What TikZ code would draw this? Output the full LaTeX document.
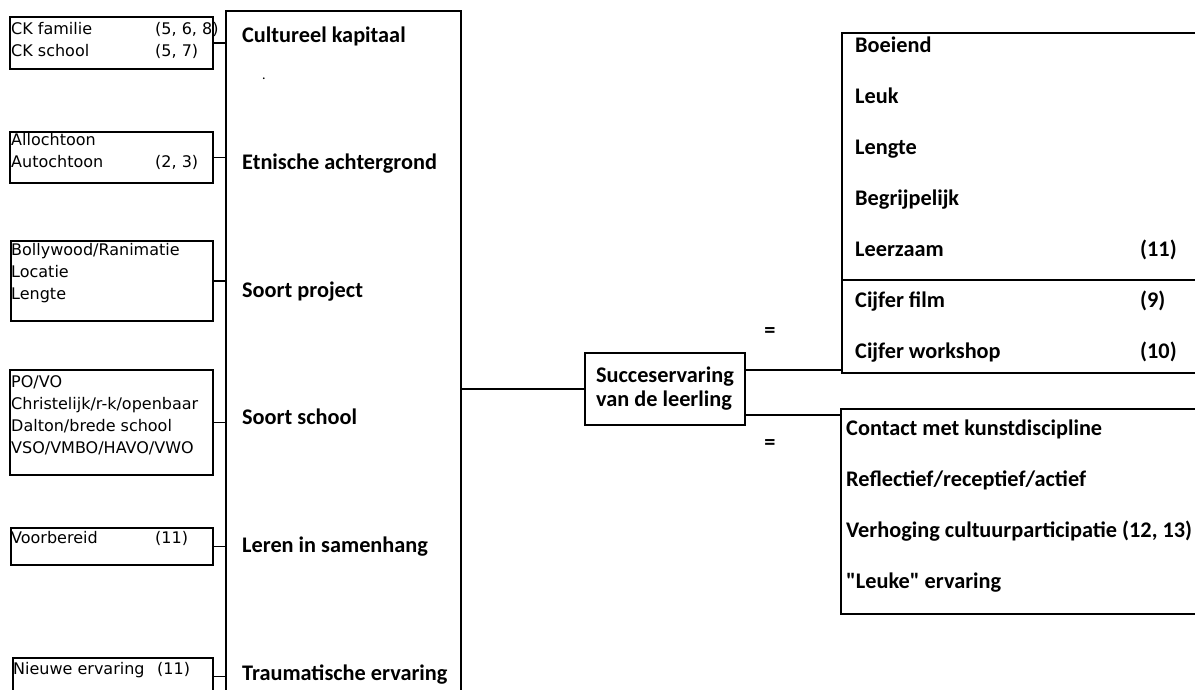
\documentclass[tikz,border=0pt]{standalone}
\usepackage{fontspec}
\setmainfont{Carlito}[Ligatures=TeXOff]
\newfontfamily\subfont{DejaVu Sans}
\usetikzlibrary{positioning}

\newcommand{\subentry}[2]{\makebox[144pt][l]{#1}#2}

\begin{document}
\begin{tikzpicture}[
    x=1pt, y=-1pt,
    font=\bfseries\fontsize{22.3}{24}\selectfont,
    subbox/.style={rectangle, draw, line width=1.5pt, minimum width=203pt, minimum height=#1, anchor=north west, inner sep=0pt},
    subtxt/.style={font=\subfont\fontsize{16}{22}\selectfont, align=left, inner sep=0pt},
    bigbox/.style={rectangle, draw, line width=1.5pt, anchor=north west, inner sep=0pt},
    lbl/.style={anchor=west, inner sep=0pt, text height=14.3pt, text depth=0pt},
    link/.style={line width=1.5pt}
]
\useasboundingbox (0,0) rectangle (1195,689);
\clip (0,0) rectangle (1195,689);

% --- Factors, left column ---
\node[bigbox, minimum width=235pt, minimum height=720pt] (factors) at (225,10) {};
\foreach \lab [count=\i] in {Cultureel kapitaal, Etnische achtergrond, Soort project, Soort school, Leren in samenhang, Traumatische ervaring}
    \node[lbl] (factor\i) at (242, 35+127.6*\i-127.6) {\lab};
\node[inner sep=0pt, font=\fontsize{14}{14}\selectfont] (dot) at (264,79) {.};

% --- Sub-items, boxed next to each factor ---
\node[subbox=52pt] (ck) at (9,16) {};
\node[subtxt, below right=5.8pt and 2pt of ck.north west] (cktxt)
    {\rule{0pt}{12pt}\subentry{CK familie}{(5, 6, 8)}\\\subentry{CK school}{(5, 7)}};

\node[subbox=51pt] (etn) at (9,131) {};
\node[subtxt, below right=1.8pt and 2pt of etn.north west] (etntxt)
    {\rule{0pt}{12pt}Allochtoon\\\subentry{Autochtoon}{(2, 3)}};

\node[subbox=80pt, minimum width=202pt] (proj) at (10,240) {};
\node[subtxt, below right=2.8pt and 1pt of proj.north west] (projtxt)
    {\rule{0pt}{12pt}Bollywood/Ranimatie\\Locatie\\Lengte};

\node[subbox=105pt] (school) at (9,369) {};
\node[subtxt, below right=5.8pt and 2pt of school.north west] (schooltxt)
    {\rule{0pt}{12pt}PO/VO\\Christelijk/r-k/openbaar\\Dalton/brede school\\VSO/VMBO/HAVO/VWO};

\node[subbox=37pt, minimum width=202pt] (leren) at (10,527) {};
\node[subtxt, below right=3.8pt and 1pt of leren.north west] (lerentxt)
    {\rule{0pt}{12pt}\subentry{Voorbereid}{(11)}};

\node[subbox=37pt, minimum width=200pt] (trauma) at (12,657) {};
\node[subtxt, below right=4.8pt and 1pt of trauma.north west] (traumatxt)
    {\rule{0pt}{12pt}\subentry{Nieuwe ervaring}{(11)}};

\foreach \b in {ck, etn, proj, school, leren, trauma}
    \draw[link] (\b.east) -- (\b.east -| factors.west);

% --- Central outcome ---
\node[rectangle, draw, line width=1.5pt, minimum width=160pt, minimum height=72pt, align=left] (succes) at (665,389)
    {Succeservaring\\van de leerling};
\draw[link] (succes.west) -- (succes.west -| factors.east);

% --- Judgement of the pupil, upper right ---
\node[bigbox, minimum width=400pt, minimum height=340pt] (oordeel) at (841,32) {};
\coordinate (split) at (841,280);
\draw[link] (split) -- (split -| oordeel.east);
\foreach \lab [count=\i] in {Boeiend, Leuk, Lengte, Begrijpelijk, Leerzaam, Cijfer film, Cijfer workshop}
    \node[lbl] (crit\i) at (855, 45+51*\i-51) {\lab};
\node[lbl] (num5) at (1140,249) {(11)};
\node[lbl] (num6) at (1140,300) {(9)};
\node[lbl] (num7) at (1140,351) {(10)};

% --- Effect, lower right ---
\node[bigbox, minimum width=400pt, minimum height=205pt] (effect) at (840,408) {};
\foreach \lab [count=\i] in {Contact met kunstdiscipline, Reflectief/receptief/actief, Verhoging cultuurparticipatie (12{,} 13), {"Leuke" ervaring}}
    \node[lbl] (eff\i) at (846, 428+51*\i-51) {\lab};

% --- Connections to the right ---
\draw[link] ([yshift=19pt]succes.east) -- ([yshift=19pt]succes.east -| oordeel.west);
\draw[link] ([yshift=-26pt]succes.east) -- ([yshift=-26pt]succes.east -| effect.west);
\node[inner sep=0pt] (eqtop) at (770,333) {=};
\node[inner sep=0pt] (eqbot) at (770,445) {=};

\end{tikzpicture}
\end{document}
